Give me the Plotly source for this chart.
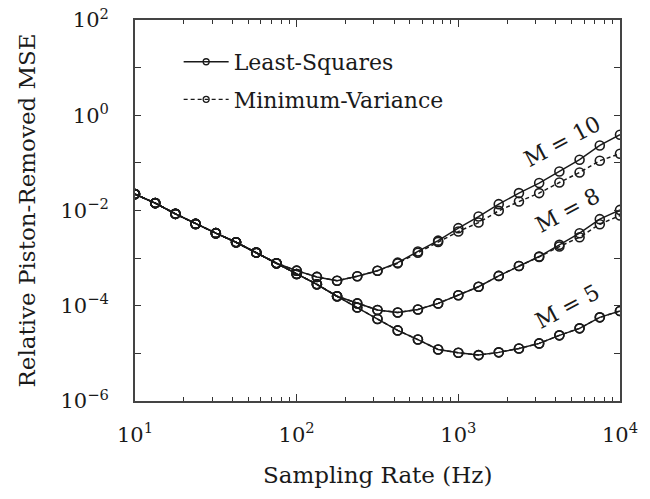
import math
import plotly.graph_objects as go

# Sampling rates (Hz)
rate = [10, 13.34, 17.78, 23.71, 31.62, 42.17, 56.23, 74.99, 100, 133.4, 177.8, 237.1,
        316.2, 421.7, 562.3, 749.9, 1000, 1334, 1778, 2371, 3162, 4217, 5623, 7499, 10000]

# Relative piston-removed MSE
m10_ls = [0.02208, 0.01429, 0.008511, 0.005236, 0.003342, 0.002158, 0.001306, 0.000782,
          5.46e-4, 4.03e-4, 3.35e-4, 4.16e-4, 5.43e-4, 8.04e-4, 1.38e-3, 2.33e-3,
          4.26e-3, 7.46e-3, 1.36e-2, 2.32e-2, 3.77e-2, 6.59e-2, 0.1164, 0.2323, 0.390]
m10_mv = [0.02208, 0.01429, 0.008511, 0.005236, 0.003342, 0.002158, 0.001306, 0.000782,
          5.46e-4, 4.03e-4, 3.35e-4, 4.16e-4, 5.43e-4, 7.76e-4, 1.30e-3, 2.19e-3,
          3.61e-3, 5.58e-3, 9.84e-3, 1.54e-2, 2.32e-2, 3.87e-2, 6.28e-2, 0.1109, 0.1556]
m8_ls = [0.02208, 0.01429, 0.008511, 0.005236, 0.003342, 0.002158, 0.001306, 0.000782,
         4.65e-4, 2.82e-4, 1.58e-4, 1.12e-4, 8.13e-5, 7.21e-5, 8.34e-5, 1.12e-4,
         1.66e-4, 2.51e-4, 4.23e-4, 6.85e-4, 1.08e-3, 1.90e-3, 3.34e-3, 6.58e-3, 1.03e-2]
m8_mv = [0.02208, 0.01429, 0.008511, 0.005236, 0.003342, 0.002158, 0.001306, 0.000782,
         4.65e-4, 2.82e-4, 1.58e-4, 1.12e-4, 8.13e-5, 7.21e-5, 8.34e-5, 1.12e-4,
         1.66e-4, 2.51e-4, 4.23e-4, 6.85e-4, 1.06e-3, 1.75e-3, 2.75e-3, 5.16e-3, 7.83e-3]
m5_ls = [0.02208, 0.01429, 0.008511, 0.005236, 0.003342, 0.002158, 0.001306, 0.000782,
         4.65e-4, 2.82e-4, 1.58e-4, 9.18e-5, 5.26e-5, 3.04e-5, 1.95e-5, 1.21e-5,
         1.03e-5, 9.20e-6, 1.05e-5, 1.27e-5, 1.62e-5, 2.39e-5, 3.35e-5, 5.71e-5, 7.74e-5]
m5_mv = [0.02208, 0.01429, 0.008511, 0.005236, 0.003342, 0.002158, 0.001306, 0.000782,
         4.65e-4, 2.82e-4, 1.58e-4, 9.18e-5, 5.26e-5, 3.04e-5, 1.95e-5, 1.21e-5,
         1.03e-5, 9.20e-6, 1.05e-5, 1.27e-5, 1.62e-5, 2.39e-5, 3.35e-5, 5.71e-5, 7.74e-5]

curve_labels = ["M = 10", "M = 8", "M = 5"]
label_x = [10**3.643, 10**3.674, 10**3.674]
label_y = [10**-0.56, 10**-1.99, 10**-4.02]

x_tickvals = [10, 100, 1000, 10000]
x_ticktext = ["10<sup>1</sup>", "10<sup>2</sup>", "10<sup>3</sup>", "10<sup>4</sup>"]
y_tickvals = [1e2, 1e0, 1e-2, 1e-4, 1e-6]
y_ticktext = ["10<sup>2</sup>", "10<sup>0</sup>", "10<sup>−2</sup>",
              "10<sup>−4</sup>", "10<sup>−6</sup>"]
y_minor_tickvals = [1e1, 1e-1, 1e-3, 1e-5]

FONT = "DejaVu Serif"
INK = "#1a1a1a"
DASH = "4px,3px"

fig = go.Figure()

series = [(m10_ls, "solid"), (m10_mv, DASH), (m8_ls, "solid"), (m8_mv, DASH),
          (m5_ls, "solid"), (m5_mv, DASH)]
for ys, dash in series:
    fig.add_trace(go.Scatter(
        x=rate, y=ys, mode="lines+markers", showlegend=False,
        line=dict(color=INK, width=1.5, dash=dash),
        marker=dict(symbol="circle-open", size=9, color=INK, line=dict(width=1.6)),
    ))

# legend entries
for name, dash, grp in [("Least-Squares", "solid", "a"), ("Minimum-Variance", DASH, "b")]:
    fig.add_trace(go.Scatter(
        x=[None], y=[None], mode="lines+markers", name=name, legendgroup=grp,
        line=dict(color=INK, width=1.3, dash=dash),
        marker=dict(symbol="circle-open", size=6, color=INK, line=dict(width=1.3)),
    ))

axis_common = dict(
    type="log", showgrid=False, zeroline=False, showline=True, mirror="allticks",
    linecolor="#444", linewidth=1.8, ticks="inside", tickcolor="#333", tickwidth=1.3,
    tickfont=dict(family=FONT, size=21, color=INK),
)

fig.update_xaxes(
    range=[1, 4], tickmode="array", tickvals=x_tickvals, ticktext=x_ticktext,
    ticklen=7, ticklabelstandoff=14,
    minor=dict(ticks="inside", ticklen=4, tickcolor="#333", tickwidth=1.2,
               tickvals=[m * 10**e for e in (1, 2, 3) for m in range(2, 10)]),
    **axis_common,
)
fig.update_yaxes(
    range=[-6, 2], tickmode="array", tickvals=y_tickvals, ticktext=y_ticktext,
    ticklen=6, ticklabelstandoff=20,
    minor=dict(ticks="inside", ticklen=6, tickcolor="#333", tickwidth=1.3,
               tickvals=y_minor_tickvals),
    **axis_common,
)

annotations = [
    dict(text="Sampling Rate (Hz)", xref="paper", yref="paper", x=0.5, y=-0.1945,
         showarrow=False, xanchor="center", yanchor="middle",
         font=dict(family=FONT, size=23, color=INK)),
    dict(text="Relative Piston-Removed MSE", xref="paper", yref="paper", x=-0.2227, y=0.5,
         showarrow=False, xanchor="center", yanchor="middle", textangle=-90,
         font=dict(family=FONT, size=23, color=INK)),
]
for t, lx, ly in zip(curve_labels, label_x, label_y):
    annotations.append(dict(text=t, x=math.log10(lx), y=math.log10(ly),
                            xref="x", yref="y", showarrow=False, textangle=-28,
                            font=dict(family=FONT, size=22, color=INK)))

fig.update_layout(
    width=650, height=499,
    margin=dict(l=135, r=30, t=20, b=98, autoexpand=False),
    paper_bgcolor="white", plot_bgcolor="white",
    annotations=annotations,
    legend=dict(x=0.09, y=0.945, xanchor="left", yanchor="top",
                font=dict(family=FONT, size=22, color=INK),
                bgcolor="rgba(0,0,0,0)", traceorder="grouped", tracegroupgap=6,
                itemwidth=45),
)

fig.write_html("out.html")
